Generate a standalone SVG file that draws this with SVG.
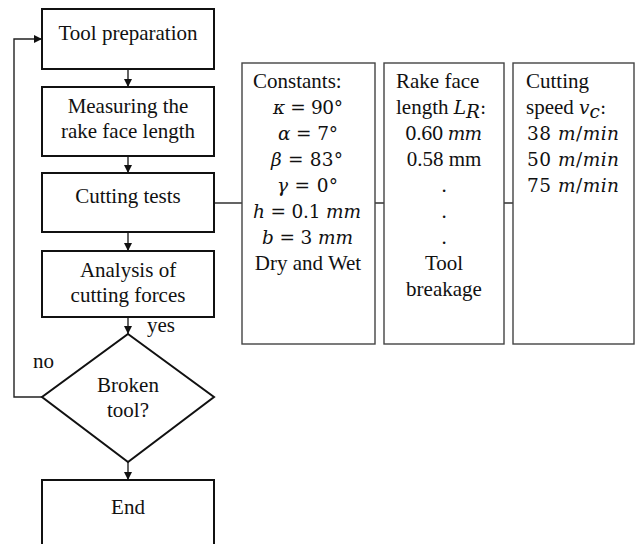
<svg xmlns="http://www.w3.org/2000/svg" width="636" height="544" viewBox="0 0 636 544">
<defs>
<marker id="arr" markerWidth="8" markerHeight="8" refX="8" refY="4" orient="auto" markerUnits="userSpaceOnUse">
<path d="M0,0 L8,4 L0,8 Z" fill="#111"/>
</marker>
<style>
text{font-family:"Liberation Serif","Times New Roman",serif;font-size:21px;fill:#111}
.c{text-anchor:middle}
.m{font-family:"DejaVu Serif","Liberation Serif",serif;font-size:18.5px}
.box{fill:#fff;stroke:#111;stroke-width:2}
.pbox{fill:#fff;stroke:#444;stroke-width:1.4}
.ln{fill:none;stroke:#222;stroke-width:1.4}
.i{font-style:italic}
</style>
</defs>
<rect width="636" height="544" fill="#fff"/>
<g id="connectors">
<line class="ln" x1="128" y1="69" x2="128" y2="87" marker-end="url(#arr)"/>
<line class="ln" x1="128" y1="156" x2="128" y2="173" marker-end="url(#arr)"/>
<line class="ln" x1="128" y1="232" x2="128" y2="251" marker-end="url(#arr)"/>
<line class="ln" x1="128" y1="317" x2="128" y2="334" marker-end="url(#arr)"/>
<line class="ln" x1="128" y1="462" x2="128" y2="480" marker-end="url(#arr)"/>
<polyline class="ln" points="42,397 14,397 14,39 42,39" marker-end="url(#arr)"/>
<line class="ln" x1="214" y1="203" x2="242" y2="203"/>
<line class="ln" x1="375" y1="203" x2="384" y2="203"/>
<line class="ln" x1="504" y1="203" x2="513" y2="203"/>
<text x="147" y="332">yes</text>
<text x="33" y="368">no</text>
</g>
<g id="tool-preparation">
<rect class="box" x="42" y="9" width="172" height="60"/>
<text class="c" x="128" y="40">Tool preparation</text>
</g>
<g id="measuring">
<rect class="box" x="42" y="87" width="172" height="69"/>
<text class="c" x="128" y="113">Measuring the</text>
<text class="c" x="128" y="138">rake face length</text>
</g>
<g id="cutting-tests">
<rect class="box" x="42" y="173" width="172" height="59"/>
<text class="c" x="128" y="203">Cutting tests</text>
</g>
<g id="analysis">
<rect class="box" x="42" y="251" width="172" height="66"/>
<text class="c" x="128" y="277">Analysis of</text>
<text class="c" x="128" y="302">cutting forces</text>
</g>
<g id="broken-tool">
<polygon class="box" points="128,334 214,397 128,462 42,397"/>
<text class="c" x="128" y="392">Broken</text>
<text class="c" x="128" y="417">tool?</text>
</g>
<g id="end">
<rect class="box" x="42" y="480" width="172" height="66"/>
<text class="c" x="128" y="514">End</text>
</g>
<g id="constants">
<rect class="pbox" x="242" y="63" width="133" height="281"/>
<text x="253" y="88">Constants:</text>
<text class="m" x="273" y="114" textLength="70" lengthAdjust="spacing"><tspan class="i">κ</tspan> = 90°</text>
<text class="m" x="278" y="140" textLength="60" lengthAdjust="spacing"><tspan class="i">α</tspan> = 7°</text>
<text class="m" x="271" y="166" textLength="72" lengthAdjust="spacing"><tspan class="i">β</tspan> = 83°</text>
<text class="m" x="277" y="192" textLength="61" lengthAdjust="spacing"><tspan class="i">γ</tspan> = 0°</text>
<text class="m" x="253" y="218" textLength="108" lengthAdjust="spacing"><tspan class="i">h</tspan> = 0.1 <tspan class="i">mm</tspan></text>
<text class="m" x="262" y="244" textLength="91" lengthAdjust="spacing"><tspan class="i">b</tspan> = 3 <tspan class="i">mm</tspan></text>
<text class="c" x="308" y="270">Dry and Wet</text>
</g>
<g id="rake-face-length">
<rect class="pbox" x="384" y="63" width="120" height="281"/>
<text x="396" y="88">Rake face</text>
<text x="396" y="114">length <tspan class="i m">L</tspan><tspan class="i m" font-size="13" dy="4">R</tspan><tspan class="m" dy="-4">:</tspan></text>
<text class="m" x="405" y="140" textLength="77" lengthAdjust="spacing">0.60 <tspan class="i">mm</tspan></text>
<text class="c" x="444" y="166">0.58 mm</text>
<text class="c" x="444" y="192">.</text>
<text class="c" x="444" y="218">.</text>
<text class="c" x="444" y="244">.</text>
<text class="c" x="444" y="270">Tool</text>
<text class="c" x="444" y="296">breakage</text>
</g>
<g id="cutting-speed">
<rect class="pbox" x="513" y="63" width="121" height="281"/>
<text x="526" y="88">Cutting</text>
<text x="526" y="114">speed <tspan class="i m">v</tspan><tspan class="i m" font-size="13" dy="4">c</tspan><tspan class="m" dy="-4">:</tspan></text>
<text class="m" x="527" y="140" textLength="92" lengthAdjust="spacing">38 <tspan class="i">m</tspan>/<tspan class="i">min</tspan></text>
<text class="m" x="527" y="166" textLength="92" lengthAdjust="spacing">50 <tspan class="i">m</tspan>/<tspan class="i">min</tspan></text>
<text class="m" x="527" y="192" textLength="92" lengthAdjust="spacing">75 <tspan class="i">m</tspan>/<tspan class="i">min</tspan></text>
</g>
</svg>
